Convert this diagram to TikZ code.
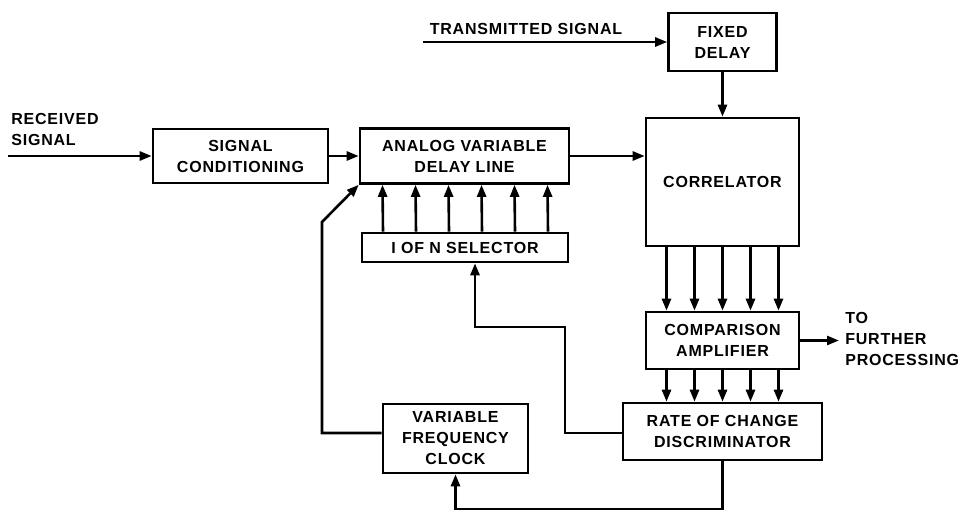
\documentclass[tikz,border=0pt]{standalone}
\usepackage{fontspec}
\setmainfont{Liberation Sans}[LetterSpace=5]
\usetikzlibrary{arrows.meta}
\begin{document}
\begin{tikzpicture}[x=1pt,y=-1pt,line width=2.6pt,
  txt/.style={font=\fontsize{16pt}{21pt}\selectfont\bfseries, align=center, inner sep=0pt},
  box/.style={txt, draw, rectangle, line width=2.6pt},
  arr/.style={-{Triangle[length=12pt,width=9pt]}, line width=2.6pt}]
\useasboundingbox (0,0) rectangle (961,511);
% boxes
\node[box, minimum width=175pt, minimum height=54pt] (sc) at (240.5,156) {SIGNAL\\CONDITIONING};
\node[box, minimum width=209pt, minimum height=55pt] (avdl) at (464.5,156) {ANALOG VARIABLE\\DELAY LINE};
\node[box, minimum width=206pt, minimum height=29pt] (sel) at (465,247.5) {I OF N SELECTOR};
\node[box, minimum width=108pt, minimum height=58pt] (fd) at (722.5,42) {FIXED\\DELAY};
\node[box, minimum width=153pt, minimum height=128pt] (corr) at (722.5,182) {CORRELATOR};
\node[box, minimum width=153pt, minimum height=57pt] (ca) at (722.5,340.5) {COMPARISON\\AMPLIFIER};
\node[box, minimum width=199pt, minimum height=57pt] (rcd) at (722.5,431.5) {RATE OF CHANGE\\DISCRIMINATOR};
\node[box, minimum width=145pt, minimum height=69pt] (vfc) at (455.5,438.5) {VARIABLE\\FREQUENCY\\CLOCK};
% labels
\node[txt, align=left, anchor=west] (rs) at (10,129) {RECEIVED\\SIGNAL};
\node[txt] (ts) at (526,29) {TRANSMITTED SIGNAL};
\node[txt, align=left, anchor=west] (fp) at (844,339) {TO\\FURTHER\\PROCESSING};
% free ends
\coordinate (rsin) at (8,156);
\coordinate (tsin) at (423,42);
\coordinate (fpout) at (839,340.5);
\coordinate (c1) at (322,433);
\coordinate (c2) at (322,222);
\coordinate (k1) at (565,327);
\coordinate (c3) at (722.5,509);
% main path
\draw[arr] (rsin) -- (sc);
\draw[arr] (sc) -- (avdl);
\draw[arr] (avdl.east) -- (corr.west |- avdl.east);
\draw[arr] (tsin) -- (fd);
\draw[arr] (fd) -- (corr);
\draw[arr] (ca) -- (fpout);
% selector to delay line
\foreach \dx in {-82,-49,-16,17,50,83}
  \draw[arr] ([xshift=\dx pt]sel.north) -- ([xshift=\dx pt]avdl.south);
% correlator to comparison amplifier
\foreach \dx in {-56,-28,0,28,56}
  \draw[arr] ([xshift=\dx pt]corr.south) -- ([xshift=\dx pt]ca.north);
% comparison amplifier to discriminator
\foreach \dx in {-56,-28,0,28,56}
  \draw[arr] ([xshift=\dx pt]ca.south) -- ([xshift=\dx pt]rcd.north);
% feedback loops
\draw[arr] (rcd.west |- 0,433) -| (k1) -| ([xshift=10pt]sel.south);
\draw[arr] (vfc.west |- c1) -- (c1) -- (c2) -- (avdl.south west);
\draw[arr] (rcd.south) -- (c3) -| (vfc.south);
\end{tikzpicture}
\end{document}
